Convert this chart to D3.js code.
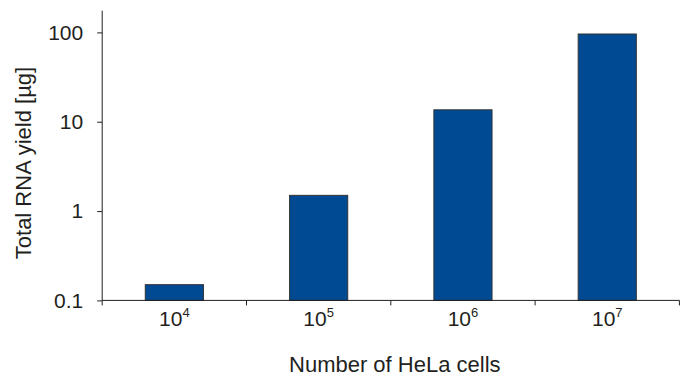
<!DOCTYPE html>
<html><head><meta charset="utf-8">
<script src="https://cdn.jsdelivr.net/npm/d3@7"></script>
<style>body{margin:0;background:#fff}svg{display:block}text{font-family:"Liberation Sans",Arial,sans-serif;fill:#231f20}</style>
</head><body><svg id="c" width="686" height="376"></svg>
<script>
const categories = ["4","5","6","7"];
const categoryBase = "10";
const yields = [0.15, 1.5, 13.6, 96];
const yTicks = [0.1, 1, 10, 100];
const yTickLabels = ["0.1","1","10","100"];
const xTitle = "Number of HeLa cells";
const yTitle = "Total RNA yield [µg]";

const svg = d3.select("#c");
const W = 686, H = 376;
const m = {l:102.2, r:W-679.4, t:10.7, b:H-300.4};
const x = d3.scaleBand().domain(categories).range([m.l, W-m.r]).paddingInner(0.597).paddingOuter(0.2985);
const y = d3.scaleLog().domain([0.1, 175]).range([H-m.b, m.t]);
const ink = "#231f20";

// bars
svg.append("g").selectAll("rect").data(yields).join("rect")
  .attr("x",(d,i)=>x(categories[i]))
  .attr("width",x.bandwidth())
  .attr("y",d=>y(d))
  .attr("height",d=>y(0.1)-y(d))
  .attr("fill","#004a93")
  .attr("stroke","#333").attr("stroke-width",1);

// y axis
const ya = svg.append("g").attr("transform",`translate(${m.l},0)`)
  .call(d3.axisLeft(y).tickValues(yTicks).tickFormat((d,i)=>yTickLabels[i]).tickSize(5).tickPadding(14));
ya.select(".domain").attr("d",`M0,${m.t}V${H-m.b}`);
ya.selectAll("text").style("font-size","21px").attr("fill",ink);

// x axis: line plus ticks at band boundaries
const xa = svg.append("g").attr("transform",`translate(0,${H-m.b})`);
xa.append("line").attr("x1",m.l).attr("x2",W-m.r).attr("stroke",ink);
const step = x.step();
xa.selectAll("line.t").data(d3.range(categories.length+1)).join("line")
  .attr("class","t")
  .attr("x1",i=>m.l + i*step).attr("x2",i=>m.l + i*step)
  .attr("y1",0).attr("y2",5).attr("stroke",ink);
const lab = xa.selectAll("text.l").data(categories).join("text")
  .attr("class","l")
  .attr("x",d=>x(d)+x.bandwidth()/2).attr("y",26).attr("text-anchor","middle").style("font-size","21px");
lab.append("tspan").text(categoryBase);
lab.append("tspan").text(d=>d).attr("dy",-9).style("font-size","13px");

svg.append("text").attr("x",(m.l + W-m.r)/2 + 4).attr("y",372).attr("text-anchor","middle").style("font-size","22px").text(xTitle);
svg.append("text").attr("transform","translate(31,163) rotate(-90)").attr("text-anchor","middle").style("font-size","22px").text(yTitle);
svg.selectAll(".domain, .tick line").attr("stroke",ink);
</script></body></html>
